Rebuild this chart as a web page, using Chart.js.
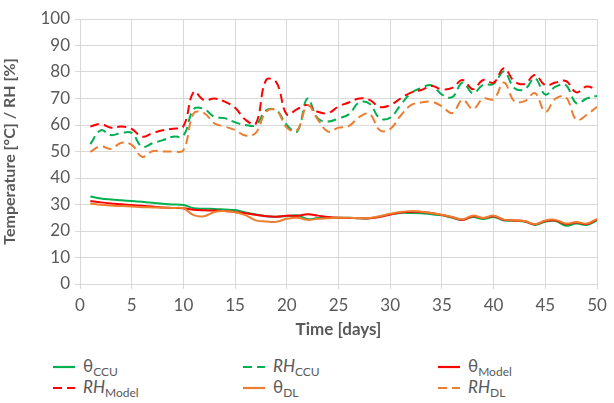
<!DOCTYPE html>
<html>
<head>
<meta charset="utf-8">
<script src="https://cdn.jsdelivr.net/npm/chart.js@4/dist/chart.umd.min.js"></script>
<style>
  body { margin: 0; background: #fff; font-family: Lato, sans-serif; }
  #wrap { position: relative; width: 614px; height: 403px; }
  #chartBox { position: absolute; left: 0; top: 0; width: 614px; height: 350px; }
  .leg { position: absolute; color: #595959; font-size: 17px; white-space: nowrap; display: flex; align-items: center; }
  .leg svg { margin-right: 8px; }
  .leg sub { font-size: 12px; vertical-align: -4px; font-style: normal; }
  .leg i { font-style: italic; }
</style>
</head>
<body>
<div id="wrap">
  <div id="chartBox"><canvas id="chartCanvas"></canvas></div>
  <div id="legend"></div>
</div>
<script>
// days
const days = [];
for (let d = 1; d <= 50; d++) days.push(d);

// temperature series [°C]
const thetaCCU = [33, 32.3, 31.9, 31.6, 31.3, 31, 30.7, 30.3, 30, 29.8,
  28.6, 28.4, 28.3, 28.1, 27.9, 27, 26.2, 25.6, 25.4, 25.6,
  25.9, 24.5, 24.9, 25, 25, 25, 24.8, 24.8, 25.5, 26.3,
  26.8, 26.8, 26.7, 26.3, 25.9, 25, 24.2, 25.3, 24.5, 25.3,
  24, 23.8, 23.6, 22.3, 23.5, 23.8, 22, 22.8, 22.3, 24];
const thetaModel = [31.3, 30.8, 30.4, 30.1, 29.8, 29.5, 29.2, 28.9, 28.7, 28.6,
  28, 27.8, 27.7, 27.5, 27.2, 26.7, 26.1, 25.6, 25.4, 25.8,
  25.7, 26.3, 25.8, 25.3, 25, 24.9, 24.8, 24.8, 25.3, 26.2,
  27, 27.3, 27.2, 26.8, 26, 25.2, 24.2, 25.6, 24.8, 25.6,
  24.2, 24, 23.7, 22.5, 23.8, 24, 22.6, 23.2, 22.6, 24.4];
const thetaDL = [30.4, 29.9, 29.6, 29.4, 29.2, 29, 28.9, 28.8, 28.7, 28.6,
  26, 25.6, 27.2, 27.5, 27.1, 26, 24, 23.6, 23.5, 24.6,
  25, 24.2, 24.6, 24.8, 25, 25, 24.9, 24.9, 25.6, 26.5,
  27.2, 27.5, 27.3, 26.8, 26.1, 25.3, 24.4, 25.8, 24.9, 25.8,
  24.3, 24, 23.8, 22.6, 24, 24.2, 22.8, 23.4, 22.8, 24.6];

// relative humidity series [%]
const rhCCU = [52.8, 58, 56.2, 57, 57, 51.8, 53.1, 54.3, 55.6, 56,
  66, 66, 63.1, 62.6, 61, 60, 60, 65.5, 65.5, 60,
  57.5, 70, 62.5, 61.3, 62.5, 64, 68.5, 68, 62.5, 62.8,
  67.5, 72, 74, 75, 71.5, 70.5, 76, 72, 75.2, 75.5,
  80.2, 74, 73.5, 77.6, 71.5, 74.5, 75, 68.2, 70, 71];
const rhModel = [59.4, 60.4, 59, 59.4, 58.5, 55.6, 56.9, 58, 58.6, 59.5,
  72.5, 69.4, 70, 68.8, 66.5, 62, 60.5, 77, 76, 64,
  66, 67.5, 65, 64.5, 67, 68.5, 70, 69.5, 66.8, 67.5,
  70, 72.2, 73.2, 74.7, 73.5, 74, 77, 73.5, 77, 76,
  81.4, 76.5, 75.5, 78.9, 75, 76, 76.6, 72.3, 74.5, 73.2];
const rhDL = [49.9, 52, 51, 53.3, 52.5, 48, 50.1, 50, 50, 50.5,
  64.4, 64.5, 60.6, 59.4, 58.1, 56, 57, 65, 65.5, 59,
  58, 67.5, 62, 57.5, 59, 59.6, 63, 64.2, 58, 58.5,
  63.5, 67.5, 68.5, 68.8, 67, 64.5, 69.5, 66, 70, 69.7,
  76, 69, 69, 72, 65, 70, 70.5, 62, 63.8, 66.9];

const xTicks = [0, 5, 10, 15, 20, 25, 30, 35, 40, 45, 50];
const yTicks = [0, 10, 20, 30, 40, 50, 60, 70, 80, 90, 100];

const GREEN = '#00B050', RED = '#FF0000', ORANGE = '#ED7D31';
const DASH = [9, 5];

function pts(arr) {
  return arr.map((v, i) => ({ x: days[i], y: v }));
}

const series = [
  { name: ['θ', 'CCU'], italic: false, data: thetaCCU, color: GREEN, dash: [] },
  { name: ['RH', 'CCU'], italic: true, data: rhCCU, color: GREEN, dash: DASH },
  { name: ['θ', 'Model'], italic: false, data: thetaModel, color: RED, dash: [] },
  { name: ['RH', 'Model'], italic: true, data: rhModel, color: RED, dash: DASH },
  { name: ['θ', 'DL'], italic: false, data: thetaDL, color: ORANGE, dash: [] },
  { name: ['RH', 'DL'], italic: true, data: rhDL, color: ORANGE, dash: DASH }
];

const datasets = series.map((s, i) => ({
  label: s.name.join('_'),
  data: pts(s.data),
  borderColor: s.color,
  backgroundColor: s.color,
  borderWidth: 2,
  borderDash: s.dash,
  pointRadius: 0,
  tension: 0.4,
  fill: false,
  order: 6 - i
}));

const tickFont = { family: 'Lato', size: 17 };
const titleFont = { family: 'Lato', size: 17, weight: 'bold' };

new Chart(document.getElementById('chartCanvas'), {
  type: 'line',
  data: { datasets: datasets },
  options: {
    responsive: true,
    maintainAspectRatio: false,
    animation: false,
    layout: { padding: { top: 19, right: 17, left: 0, bottom: 0 } },
    plugins: { legend: { display: false }, tooltip: { enabled: false } },
    scales: {
      x: {
        type: 'linear',
        min: 0,
        max: 50,
        afterBuildTicks: function(scale) {
          scale.ticks = xTicks.map(v => ({ value: v }));
        },
        afterFit: function(scale) { scale.height = 66; },
        ticks: { color: '#595959', font: tickFont, padding: 6, maxRotation: 0 },
        grid: { color: '#d9d9d9', tickLength: 5, lineWidth: 1 },
        border: { color: '#d9d9d9' },
        title: { display: true, text: 'Time [days]', color: '#595959', font: titleFont, padding: { top: 2, bottom: 10 } }
      },
      y: {
        min: 0,
        max: 100,
        afterBuildTicks: function(scale) {
          scale.ticks = yTicks.map(v => ({ value: v }));
        },
        afterFit: function(scale) { scale.width = 80; },
        ticks: { color: '#595959', font: tickFont, padding: 5 },
        grid: { color: '#d9d9d9', tickLength: 5, lineWidth: 1 },
        border: { color: '#d9d9d9' },
        title: { display: true, text: 'Temperature [°C] / RH [%]', color: '#595959', font: { family: 'Lato', size: 16, weight: 'bold' }, padding: { top: 0, bottom: 0 } }
      }
    }
  }
});

// legend with subscripts, 3 columns x 2 rows
const legendDiv = document.getElementById('legend');
const colX = [53, 243, 438];
const rowY = [355, 376];
series.forEach((s, i) => {
  const el = document.createElement('div');
  el.className = 'leg';
  el.style.left = colX[i % 3] + 'px';
  el.style.top = rowY[Math.floor(i / 3)] + 'px';
  const dash = s.dash.length ? 'stroke-dasharray="9 5"' : '';
  const main = s.italic ? '<i>' + s.name[0] + '</i>' : s.name[0];
  el.innerHTML = '<svg width="22" height="4"><line x1="0" y1="2" x2="22" y2="2" stroke="' + s.color +
    '" stroke-width="2.2" ' + dash + '/></svg><span>' + main + '<sub>' + s.name[1] + '</sub></span>';
  legendDiv.appendChild(el);
});
</script>
</body>
</html>
